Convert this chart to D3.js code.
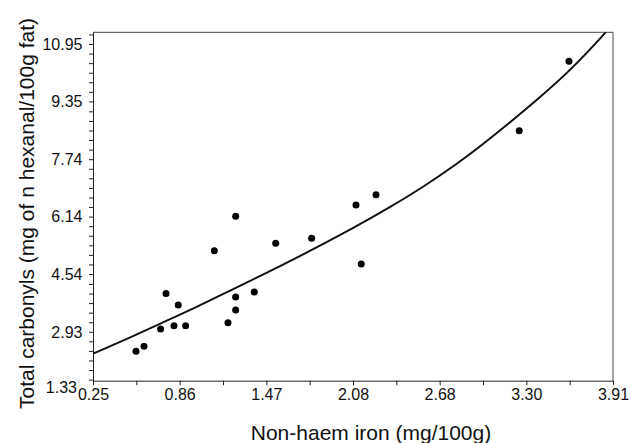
<!DOCTYPE html>
<html>
<head>
<meta charset="utf-8">
<script src="https://cdn.jsdelivr.net/npm/d3@7"></script>
<style>
  html, body { margin: 0; padding: 0; background: #fff; }
  svg { display: block; font-family: "Liberation Sans", Arial, sans-serif; }
</style>
</head>
<body>
<svg id="chart" width="632" height="443"></svg>
<script>
// ---- data ----
const ironX = [0.553, 0.609, 0.726, 0.764, 0.820, 0.850, 0.902, 1.104, 1.200, 1.254,
               1.254, 1.254, 1.385, 1.536, 1.789, 2.101, 2.138, 2.242, 3.250, 3.600];
const carbonylY = [2.39, 2.53, 3.01, 4.00, 3.10, 3.68, 3.10, 5.19, 3.18, 6.15,
                   3.90, 3.54, 4.04, 5.40, 5.54, 6.46, 4.82, 6.75, 8.53, 10.47];

// fitted curve as drawn in the reference
const fitX = [0.25, 0.50, 0.73, 0.97, 1.20, 1.44, 1.67, 2.11, 2.34, 2.58, 2.81, 3.04, 3.40, 3.63, 3.86];
const fitY = [2.32, 2.75, 3.17, 3.60, 4.05, 4.51, 4.96, 5.88, 6.40, 6.98, 7.60, 8.29, 9.47, 10.29, 11.28];

const xTickValues = [0.25, 0.86, 1.47, 2.08, 2.69, 3.30, 3.91];
const xTickLabels = ["0.25", "0.86", "1.47", "2.08", "2.68", "3.30", "3.91"];
const yTickValues = [1.33, 2.93, 4.54, 6.14, 7.74, 9.35, 10.95];
const yTickLabels = ["1.33", "2.93", "4.54", "6.14", "7.74", "9.35", "10.95"];

const xDomain = [0.25, 3.91];
const yDomain = [1.567, 11.276];

const xTitle = "Non-haem iron (mg/100g)";
const yTitle = "Total carbonyls (mg of n hexanal/100g fat)";

// ---- layout ----
const plot = { left: 93, right: 613, top: 32.3, bottom: 380.7 };
const svg = d3.select("#chart");

const x = d3.scaleLinear().domain(xDomain).range([plot.left, plot.right]);
const y = d3.scaleLinear().domain(yDomain).range([plot.bottom, plot.top]);

const axisColor = "#222";

// frame (top & right)
svg.append("path")
  .attr("d", `M${x(xDomain[0])},${y(yDomain[1])}H${x(xDomain[1])}V${y(yDomain[0])}`)
  .attr("fill", "none").attr("stroke", "#444").attr("stroke-width", 1);

// x axis
const xMinor = d3.range(xTickValues.length - 1).map(i => (xTickValues[i] + xTickValues[i + 1]) / 2);
const xAxis = d3.axisBottom(x)
  .tickValues(xTickValues.concat(xMinor))
  .tickSize(4.5)
  .tickSizeOuter(0)
  .tickFormat(d => {
    const i = xTickValues.indexOf(d);
    return i >= 0 ? xTickLabels[i] : "";
  });
const gx = svg.append("g").attr("transform", `translate(0,${plot.bottom})`).call(xAxis);
gx.select(".domain").attr("stroke", axisColor);
gx.selectAll(".tick line").attr("stroke", axisColor);
gx.selectAll(".tick text")
  .attr("font-size", 16).attr("fill", "#111")
  .attr("dy", null).attr("y", 19.3);

// y axis
const yStep = (yTickValues[1] - yTickValues[0]) / 6;
const yAll = [];
for (let i = 0; i < yTickValues.length - 1; i++) {
  for (let k = 0; k < 6; k++) yAll.push(yTickValues[i] + k * yStep);
}
yAll.push(yTickValues[yTickValues.length - 1]);
yAll.push(yTickValues[yTickValues.length - 1] + yStep);
const yInside = yAll.filter(v => v >= yDomain[0] && v <= yDomain[1]);

const yAxis = d3.axisLeft(y)
  .tickValues(yInside)
  .tickSize(4)
  .tickSizeOuter(0)
  .tickFormat("");
const gy = svg.append("g").attr("transform", `translate(${plot.left},0)`).call(yAxis);
gy.select(".domain").attr("stroke", axisColor);
gy.selectAll(".tick line").attr("stroke", axisColor);

// y tick labels (bottom label sits below the axis line at its true value;
// nudged left a little so it does not collide with the first x label)
svg.append("g").selectAll("text")
  .data(yTickValues)
  .join("text")
  .attr("x", d => plot.left - (d < yDomain[0] ? 16 : 10.5))
  .attr("y", d => y(d) - (d < yDomain[0] ? 2 : 0))
  .attr("dy", "0.36em")
  .attr("text-anchor", "end")
  .attr("font-size", 16)
  .attr("fill", "#111")
  .text((d, i) => yTickLabels[i]);

// clip for curve
svg.append("clipPath").attr("id", "clip")
  .append("rect")
  .attr("x", plot.left).attr("y", plot.top)
  .attr("width", plot.right - plot.left).attr("height", plot.bottom - plot.top);

// fitted curve
const fitPts = fitX.map((v, i) => [v, fitY[i]]);
svg.append("path")
  .datum(fitPts)
  .attr("clip-path", "url(#clip)")
  .attr("fill", "none")
  .attr("stroke", "#111")
  .attr("stroke-width", 2)
  .attr("stroke-linejoin", "round")
  .attr("d", d3.line().x(d => x(d[0])).y(d => y(d[1])).curve(d3.curveBasis));

// points
const pts = ironX.map((v, i) => [v, carbonylY[i]]);
svg.append("g").selectAll("circle")
  .data(pts)
  .join("circle")
  .attr("cx", d => x(d[0]))
  .attr("cy", d => y(d[1]))
  .attr("r", 3.5)
  .attr("fill", "#000");

// axis titles
svg.append("text")
  .attr("x", (plot.left + plot.right) / 2 + 18)
  .attr("y", 440)
  .attr("text-anchor", "middle")
  .attr("font-size", 21)
  .attr("fill", "#111")
  .text(xTitle);

svg.append("text")
  .attr("transform", `translate(34,${213.5}) rotate(-90)`)
  .attr("text-anchor", "middle")
  .attr("font-size", 21)
  .attr("fill", "#111")
  .text(yTitle);
</script>
</body>
</html>
